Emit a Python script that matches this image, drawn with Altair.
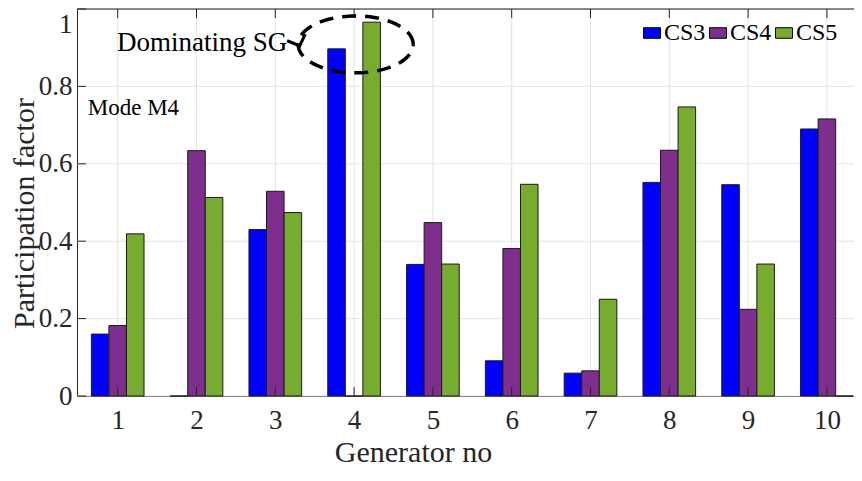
import altair as alt
import pandas as pd
import numpy as np

generators = [1, 2, 3, 4, 5, 6, 7, 8, 9, 10]
series = ["CS3", "CS4", "CS5"]
colors = ["#0000FF", "#7E2F8E", "#77AC30"]
cs3 = [0.160, 0.0, 0.430, 0.897, 0.340, 0.091, 0.059, 0.552, 0.546, 0.690]
cs4 = [0.182, 0.634, 0.529, 0.0, 0.448, 0.381, 0.065, 0.635, 0.224, 0.716]
cs5 = [0.419, 0.513, 0.474, 0.966, 0.341, 0.547, 0.250, 0.747, 0.341, 0.0]
y_ticks = [0, 0.2, 0.4, 0.6, 0.8, 1]

# annotation
ann_text = ["Dominating SG", "Mode M4"]
ann_x = [0.99, 0.62]
ann_y = [0.912, 0.745]
ann_size = [27, 23]
ell_cx, ell_cy, ell_rx, ell_ry = 4.02, 0.9085, 0.73, 0.0735
arrow_x = [3.15, 3.31, 3.38]
arrow_y = [0.918, 0.905, 0.935]

FONT = "Liberation Serif"
W, H = 777, 387
XDOM = [0.4835, 10.344]

rows = []
for k, (name, vals) in enumerate(zip(series, [cs3, cs4, cs5])):
    for g, v in zip(generators, vals):
        rows.append({"gen": g, "series": name, "k": k, "value": v})
bars_df = pd.DataFrame(rows)

xs = alt.Scale(domain=XDOM, nice=False, zero=False)
ys = alt.Scale(domain=[0, 1], nice=False)

grid_x = alt.Chart(pd.DataFrame({"g": generators})).mark_rule(color="#E3E3E3", strokeWidth=1).encode(
    x=alt.X("g:Q", scale=xs,
            axis=alt.Axis(values=generators, format="d", grid=False, ticks=False, domain=True,
                          domainColor="#262626", domainWidth=1, labelFont=FONT, labelFontSize=27,
                          labelColor="#262626", labelPadding=11, title="Generator no", titleFont=FONT,
                          titleFontSize=30, titleFontWeight="normal", titleColor="#262626", titleX=336,
                          titleY=56, titleBaseline="middle", titleAlign="center")),
    y=alt.value(0), y2=alt.value(H))

grid_y = alt.Chart(pd.DataFrame({"v": y_ticks})).mark_rule(color="#E3E3E3", strokeWidth=1).encode(
    y=alt.Y("v:Q", scale=ys,
            axis=alt.Axis(values=y_ticks, format="~g", grid=False, ticks=False, domain=True,
                          domainColor="#262626", domainWidth=1, labelFont=FONT, labelFontSize=27,
                          labelColor="#262626", labelPadding=5,
                          labelOffset={"condition": {"test": "datum.value == 1", "value": 15}, "value": 0},
                          title="Participation factor", titleFont=FONT, titleFontSize=30,
                          titleFontWeight="normal", titleColor="#262626", titleX=-53, titleY=204,
                          titleAngle=270, titleBaseline="middle", titleAlign="center")),
    x=alt.value(0), x2=alt.value(W))

bars = alt.Chart(bars_df).transform_calculate(
    x0="datum.gen + (datum.k - 1) * 0.2227 - 0.11135",
    x1="datum.gen + (datum.k - 1) * 0.2227 + 0.11135",
).mark_bar(stroke="#1a1a1a", strokeWidth=1, opacity=1).encode(
    x=alt.X("x0:Q", scale=xs),
    x2="x1:Q",
    y=alt.Y("value:Q", scale=ys),
    y2=alt.datum(0),
    color=alt.Color("series:N", scale=alt.Scale(domain=series, range=colors),
                    legend=alt.Legend(orient="none", legendX=563, legendY=12, direction="horizontal",
                                      title=None, symbolType="M-1,-0.62H1V0.62H-1Z", symbolSize=289,
                                      symbolStrokeColor="black", symbolStrokeWidth=1, symbolOpacity=1,
                                      labelFont=FONT, labelFontSize=24, labelColor="black",
                                      labelOffset=0, columnPadding=0, padding=0)),
)

# inward ticks
yt_left = alt.Chart(pd.DataFrame({"v": y_ticks})).mark_rule(color="#262626").encode(
    y=alt.Y("v:Q", scale=ys), x=alt.value(0), x2=alt.value(9))
xt_bottom = alt.Chart(pd.DataFrame({"g": generators})).mark_rule(color="#262626").encode(
    x=alt.X("g:Q", scale=xs), y=alt.value(H), y2=alt.value(H - 9))
xt_top = alt.Chart(pd.DataFrame({"g": generators})).mark_rule(color="#262626").encode(
    x=alt.X("g:Q", scale=xs), y=alt.value(0), y2=alt.value(9))
top_line = alt.Chart(pd.DataFrame({"a": [0]})).mark_rule(color="#262626", strokeWidth=1).encode(
    x=alt.value(0), x2=alt.value(W), y=alt.value(0))

text = alt.Chart(pd.DataFrame({"t": ann_text, "x": ann_x, "y": ann_y, "s": ann_size})).mark_text(
    font=FONT, align="left", baseline="middle", color="black").encode(
    x=alt.X("x:Q", scale=xs), y=alt.Y("y:Q", scale=ys), text="t:N",
    size=alt.Size("s:Q", scale=None, legend=None))

theta = np.linspace(0, 2 * np.pi, 120)
ell_df = pd.DataFrame({"i": np.arange(len(theta)),
                       "x": ell_cx + ell_rx * np.cos(theta),
                       "y": ell_cy + ell_ry * np.sin(theta)})
ellipse = alt.Chart(ell_df).mark_line(color="black", strokeWidth=3.5, strokeDash=[14, 9]).encode(
    x=alt.X("x:Q", scale=xs), y=alt.Y("y:Q", scale=ys), order="i:Q")

arrow = alt.Chart(pd.DataFrame({"i": [0, 1, 2], "x": arrow_x, "y": arrow_y})).mark_line(
    color="black", strokeWidth=3).encode(
    x=alt.X("x:Q", scale=xs), y=alt.Y("y:Q", scale=ys), order="i:Q")

chart = alt.layer(grid_x, grid_y, bars, yt_left, xt_bottom, xt_top, top_line, ellipse, arrow, text).properties(
    width=W, height=H, autosize="none",
    padding={"left": 69, "top": 1, "right": 0, "bottom": 72},
).configure_view(stroke=None).configure(background="white")

chart.save("out.html", embed_options={"renderer": "svg", "actions": False})
